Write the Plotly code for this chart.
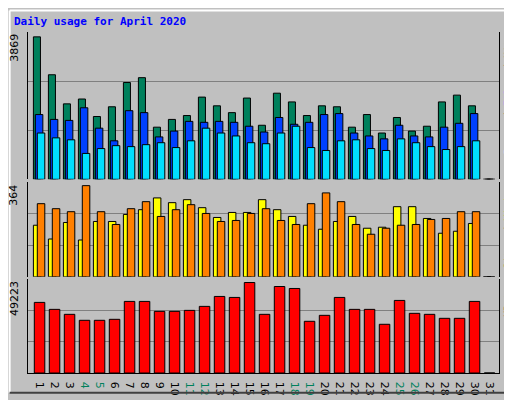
import plotly.graph_objects as go

days = list(range(1, 32))
hits = [3869, 2840, 2049, 2181, 1706, 1970, 2629, 2761, 1416, 1627, 1732, 2233, 1996, 1811, 2207,
        1468, 2339, 2102, 1732, 1996, 1970, 1416, 1759, 1257, 1679, 1310, 1442, 2102, 2286, 1996, 0]
files = [1759, 1627, 1600, 1943, 1389, 1046, 1864, 1811, 1152, 1310, 1574, 1548, 1574, 1548, 1442,
         1284, 1679, 1495, 1548, 1759, 1785, 1257, 1178, 1099, 1468, 1178, 1152, 1416, 1521, 1785, 0]
pages = [1257, 1126, 1073, 703, 835, 914, 888, 941, 994, 862, 1046, 1389, 1257, 1178, 994,
         967, 1257, 1442, 862, 783, 1046, 1073, 835, 783, 1099, 994, 888, 809, 888, 1046, 0]
visits = [206, 151, 217, 147, 221, 221, 249, 268, 315, 296, 308, 276, 237, 257, 257,
          308, 268, 241, 206, 190, 221, 241, 194, 198, 280, 280, 233, 174, 182, 213, 0]
sites = [292, 272, 260, 364, 260, 209, 272, 300, 241, 268, 288, 253, 221, 225, 253,
         272, 225, 209, 292, 335, 300, 209, 170, 194, 206, 209, 229, 233, 260, 260, 0]
kbytes = [38404, 34618, 31913, 28668, 28668, 29209, 38945, 38945, 33536, 33536, 34077, 36241,
          41650, 41109, 49223, 31913, 47059, 45977, 28127, 31372, 41109, 34618, 34618, 26504,
          39486, 32454, 31913, 29750, 29750, 38945, 0]
weekend = [4, 5, 11, 12, 18, 19, 25, 26]

fig = go.Figure()


def add_bar(y, color, offset, width, axis):
    fig.add_trace(go.Bar(x=days, y=y, marker=dict(color=color, line=dict(color="black", width=1)),
                         offset=offset, width=width, xaxis="x", yaxis=axis, showlegend=False))


add_bar(hits, "#00805c", -0.53, 0.47, "y")
add_bar(files, "#0040ff", -0.4, 0.5, "y")
add_bar(pages, "#00e0ff", -0.27, 0.5, "y")
add_bar(visits, "#ffff00", -0.53, 0.5, "y2")
add_bar(sites, "#ff8000", -0.27, 0.5, "y2")
add_bar(kbytes, "#ff0000", -0.47, 0.7, "y3")

ticktext = [f"<span style='color:#00805c'>{d}</span>" if d in weekend else str(d) for d in days]


def yax(domain, top):
    return dict(domain=domain, range=[0, top], showticklabels=False, ticks="", anchor="x",
                tickvals=[top / 3, 2 * top / 3], gridcolor="#808080", gridwidth=1,
                showline=True, linecolor="black", mirror=True, zeroline=False, fixedrange=True)


fig.update_layout(
    width=512, height=400, barmode="overlay",
    margin=dict(l=20, r=21, t=24, b=22),
    paper_bgcolor="#c0c0c0", plot_bgcolor="#c0c0c0",
    font=dict(family="DejaVu Sans", size=11, color="black"),
    xaxis=dict(range=[0.11, 31.51], tickvals=days, ticktext=ticktext, showgrid=False,
               anchor="y3", showline=True, linecolor="black", ticks="", zeroline=False,
               tickfont=dict(size=11)),
    yaxis=yax([0.568, 1], 4001),
    yaxis2=yax([0.282, 0.559], 377),
    yaxis3=yax([0, 0.277], 51387),
)

fig.add_annotation(text="<b>Daily usage for April 2020</b>", xref="paper", yref="paper",
                   x=-0.035, y=1.055, xanchor="left", yanchor="top", showarrow=False,
                   font=dict(family="DejaVu Sans Mono", size=11, color="#0000ff"))

for label, ytop in [("3869", 1), ("364", 0.559), ("49223", 0.277)]:
    fig.add_annotation(text=label, xref="paper", yref="paper", x=-0.012, y=ytop,
                       xanchor="right", yanchor="top", textangle=-90, showarrow=False,
                       font=dict(size=11))

side = [
    ("<span style='color:#00e0ff'>Pages</span> / <span style='color:#0040ff'>Files</span>"
     " / <span style='color:#00805c'>Hits</span>", 1),
    ("<span style='color:#ff8000'>Sites</span> / <span style='color:#ffff00'>Visits</span>", 0.559),
    ("<span style='color:#ff0000'>KBytes</span>", 0.277),
]
for label, ytop in side:
    fig.add_annotation(text=label, xref="paper", yref="paper", x=1.004, y=ytop,
                       xanchor="left", yanchor="top", textangle=-90, showarrow=False,
                       font=dict(family="DejaVu Sans Mono", size=10, color="black"))

# bevelled outer frame
fig.add_shape(type="line", xref="paper", yref="paper", x0=-0.039, x1=1.042, y0=1.063, y1=1.063,
              line=dict(color="white", width=2))
fig.add_shape(type="line", xref="paper", yref="paper", x0=-0.039, x1=-0.039, y0=-0.058, y1=1.063,
              line=dict(color="white", width=2))
fig.add_shape(type="line", xref="paper", yref="paper", x0=-0.039, x1=1.042, y0=-0.058, y1=-0.058,
              line=dict(color="#404040", width=2))
fig.add_shape(type="line", xref="paper", yref="paper", x0=1.042, x1=1.042, y0=-0.058, y1=1.063,
              line=dict(color="#404040", width=2))

fig.write_html("out.html")
